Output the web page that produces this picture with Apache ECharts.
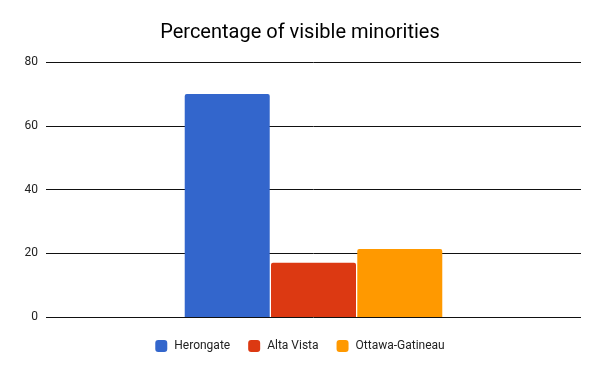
<!DOCTYPE html>
<html><head><meta charset="utf-8">
<script src="https://cdn.jsdelivr.net/npm/echarts@6/dist/echarts.min.js"></script>
<style>html,body{margin:0;padding:0;background:#fff}#c{width:600px;height:371px}</style>
</head><body><div id="c"></div>
<script>
const categories = ['Percentage of visible minorities'];
const seriesNames = ['Herongate', 'Alta Vista', 'Ottawa-Gatineau'];
const herongate = [70];
const altaVista = [17];
const ottawaGatineau = [21.3];
const colors = ['#3366cc', '#dc3912', '#ff9900'];
const values = [herongate, altaVista, ottawaGatineau];

const chart = echarts.init(document.getElementById('c'));
chart.setOption({
  animation: false,
  title: {
    text: 'Percentage of visible minorities', left: 'center', top: 18,
    textStyle: { fontFamily: 'Roboto', fontSize: 20, fontWeight: 'normal', color: '#000' }
  },
  legend: {
    bottom: 14, left: 'center', itemWidth: 12, itemHeight: 12, itemGap: 18,
    icon: 'roundRect',
    textStyle: { fontFamily: 'Roboto', fontSize: 12, color: '#222', padding: [0, 0, 0, 2] }
  },
  grid: { left: 46, right: 19, top: 62, bottom: 54 },
  xAxis: {
    type: 'category', data: categories,
    axisLine: { show: false }, axisTick: { show: false }, axisLabel: { show: false }
  },
  yAxis: {
    type: 'value', min: 0, max: 80, interval: 20,
    axisLine: { show: false }, axisTick: { show: false },
    axisLabel: { fontFamily: 'Roboto', fontSize: 12, color: '#222', margin: 8 },
    splitLine: { lineStyle: { color: '#111', width: 1 } }
  },
  series: seriesNames.map((n, i) => ({
    name: n, type: 'bar', data: values[i], barWidth: 85, barGap: '1.5%',
    itemStyle: { color: colors[i], borderRadius: [2, 2, 0, 0] }
  }))
});
</script></body></html>
